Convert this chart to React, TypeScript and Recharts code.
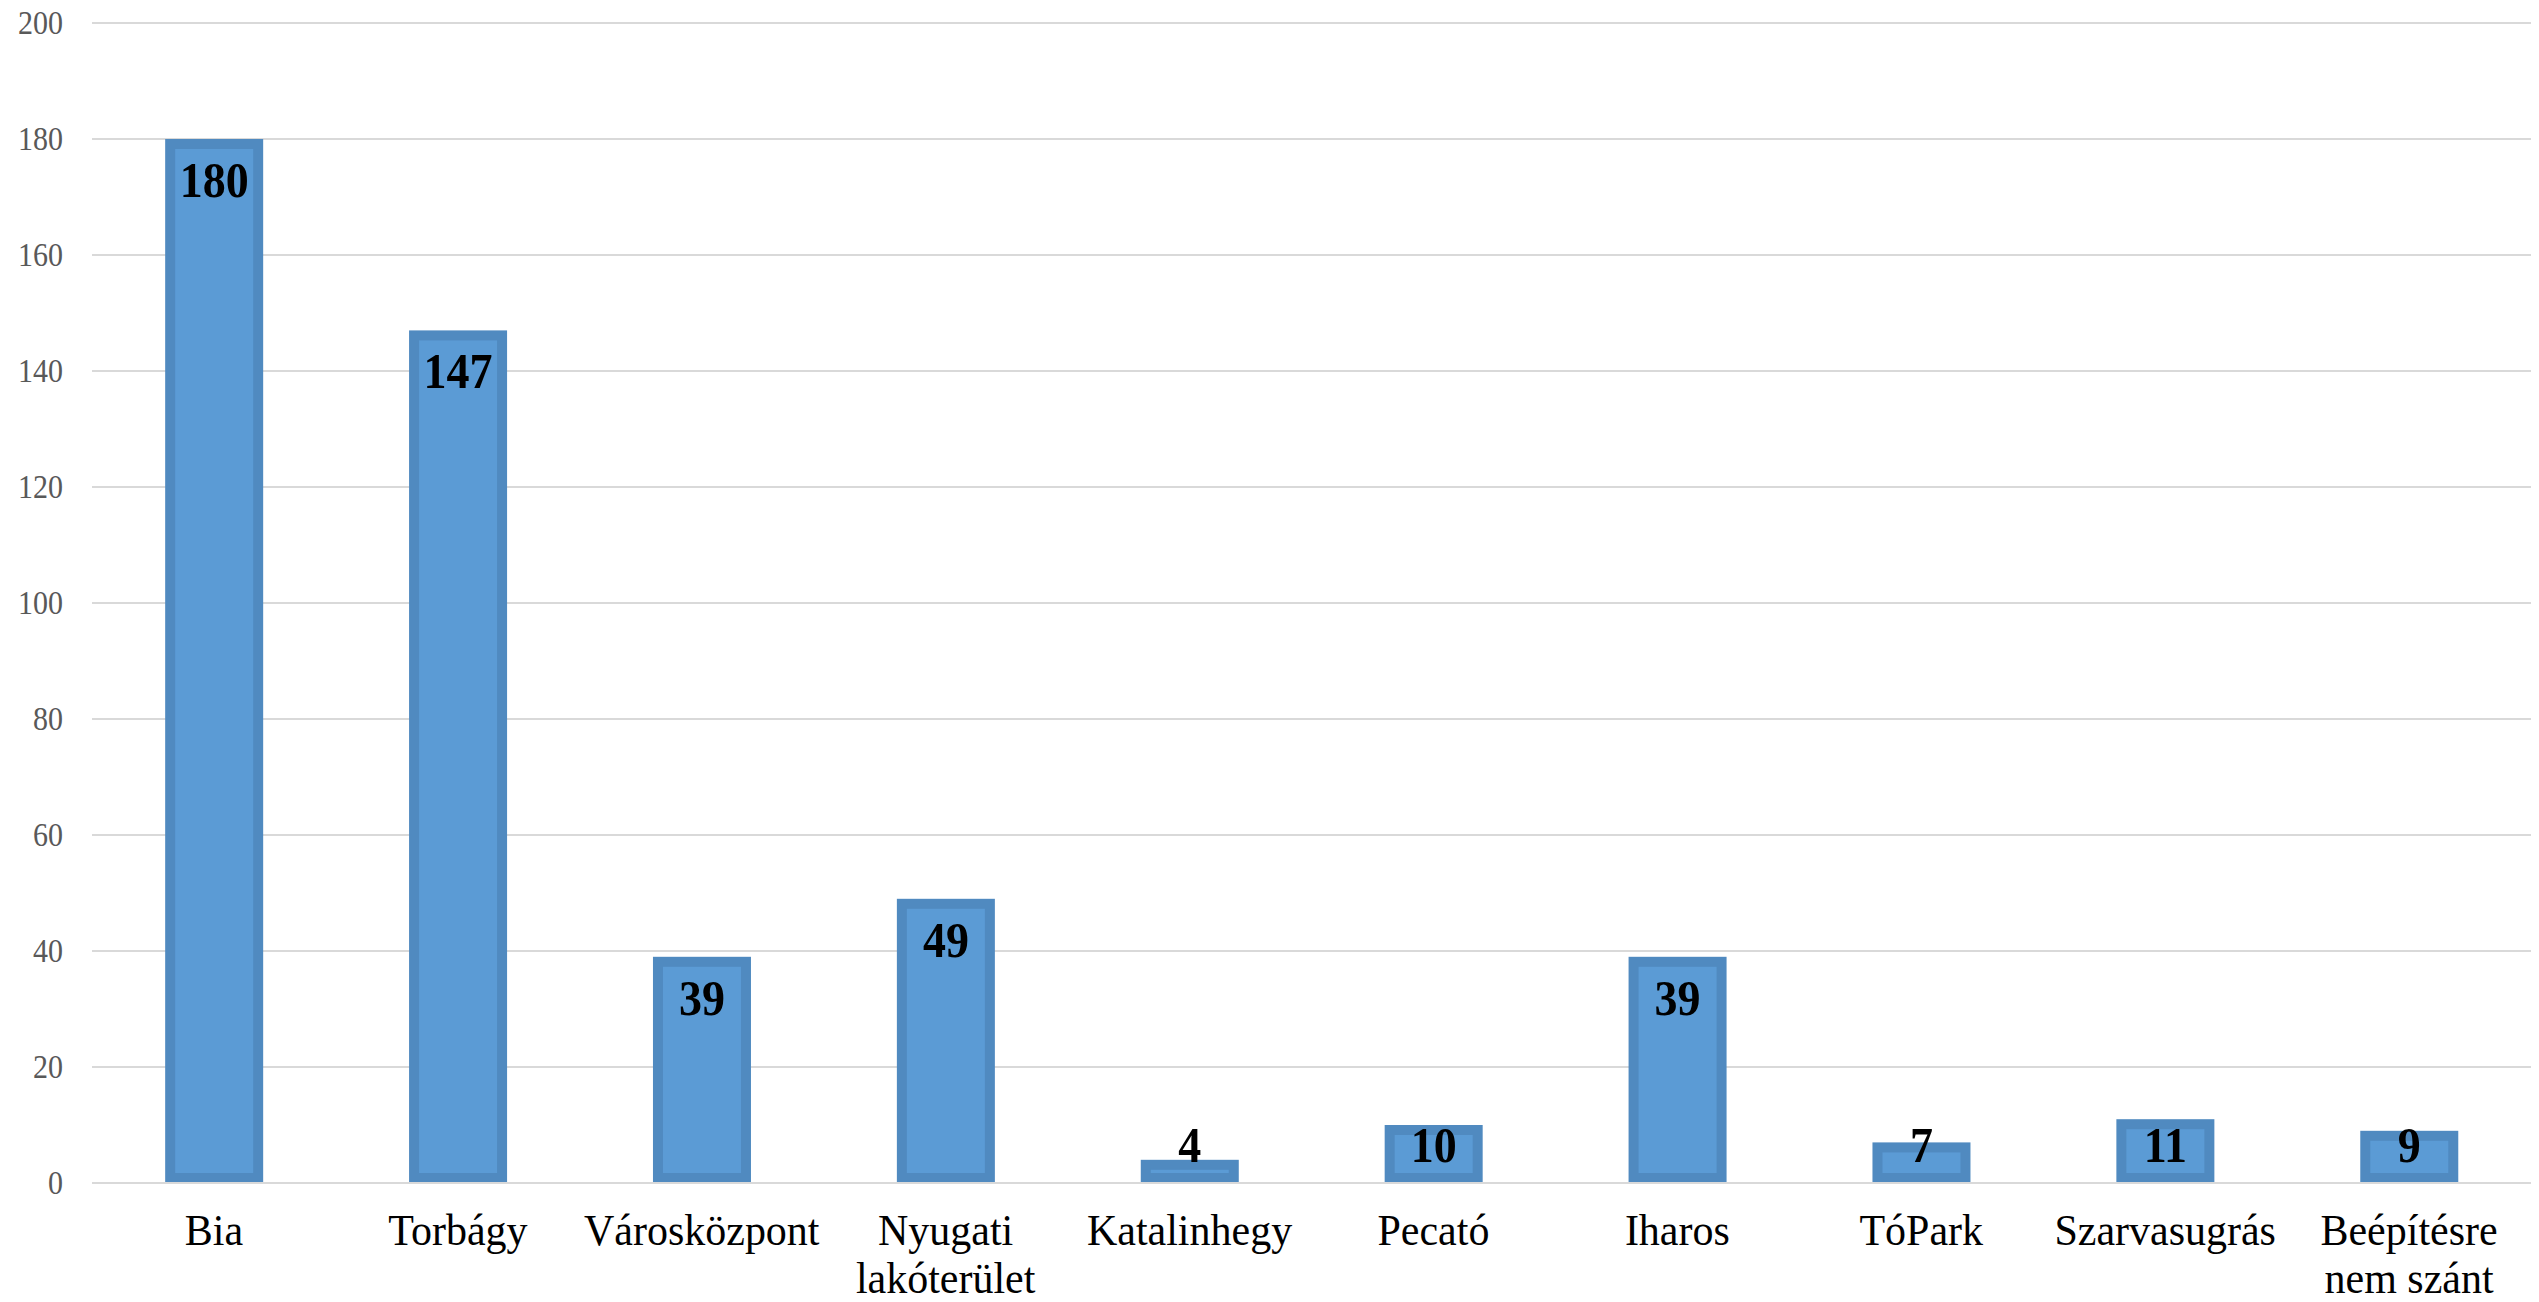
import * as React from 'react';
import { BarChart, Bar, XAxis, YAxis, CartesianGrid, LabelList } from 'recharts';

const categories = [
  'Bia',
  'Torbágy',
  'Városközpont',
  'Nyugati\nlakóterület',
  'Katalinhegy',
  'Pecató',
  'Iharos',
  'TóPark',
  'Szarvasugrás',
  'Beépítésre\nnem szánt',
];
const values = [180, 147, 39, 49, 4, 10, 39, 7, 11, 9];
const yTicks = [0, 20, 40, 60, 80, 100, 120, 140, 160, 180, 200];

const FONT = '"Liberation Serif", "Times New Roman", serif';
const BORDER = '#508AC0';
const FILL = '#5B9BD5';

const data = categories.map((name, i) => ({ name, value: values[i] }));

// bar with an inset darker border, like the original
function FramedBar(props: any) {
  const { x, y, width, height } = props;
  if (!height || height <= 0) return null;
  const b = 10;
  const iw = Math.max(width - 2 * b, 0);
  const ih = Math.max(height - 2 * b, 0);
  return (
    <g>
      <rect x={x} y={y} width={width} height={height} fill={BORDER} />
      {ih > 0 && <rect x={x + b} y={y + b} width={iw} height={ih} fill={FILL} />}
      {ih <= 0 && height > 14 && (
        <rect x={x + b} y={y + height / 2 - 1} width={iw} height={2} fill={FILL} />
      )}
    </g>
  );
}

function ValueLabel(props: any) {
  const { x, y, width, height, value } = props;
  const cx = x + width / 2;
  const base = Math.min(y + 58, y + height - 21);
  return (
    <text
      transform={`translate(${cx}, ${base}) scale(1, 1.12)`}
      textAnchor="middle"
      fontFamily={FONT}
      fontWeight="bold"
      fontSize={46}
      fill="#000"
    >
      {value}
    </text>
  );
}

function CategoryTick(props: any) {
  const { x, y, payload } = props;
  const lines = String(payload.value).split('\n');
  return (
    <g>
      {lines.map((line, i) => (
        <text
          key={i}
          transform={`translate(${x}, ${y + 62 + i * 48}) scale(1, 1.07)`}
          textAnchor="middle"
          fontFamily={FONT}
          fontSize={42}
          fill="#000"
        >
          {line}
        </text>
      ))}
    </g>
  );
}

function ValueTick(props: any) {
  const { y, payload } = props;
  return (
    <text
      transform={`translate(63, ${y + 10.5}) scale(1, 1.1)`}
      textAnchor="end"
      fontFamily={FONT}
      fontSize={30}
      fill="#595959"
    >
      {payload.value}
    </text>
  );
}

export default function App() {
  return (
    <div style={{ margin: -8, width: 2539, height: 1302, background: '#fff' }}>
      <BarChart
        width={2539}
        height={1302}
        data={data}
        margin={{ top: 23, right: 8, bottom: 0, left: 0 }}
        barCategoryGap="30%"
      >
        <CartesianGrid vertical={false} stroke="#D9D9D9" strokeWidth={2} />
        <XAxis
          dataKey="name"
          height={119}
          axisLine={{ stroke: '#D9D9D9', strokeWidth: 2 }}
          tickLine={false}
          tickSize={0}
          tickMargin={0}
          interval={0}
          tick={<CategoryTick />}
        />
        <YAxis
          width={92}
          domain={[0, 200]}
          ticks={yTicks}
          axisLine={false}
          tickLine={false}
          tick={<ValueTick />}
        />
        <Bar dataKey="value" shape={<FramedBar />} isAnimationActive={false}>
          <LabelList dataKey="value" content={<ValueLabel />} />
        </Bar>
      </BarChart>
    </div>
  );
}
